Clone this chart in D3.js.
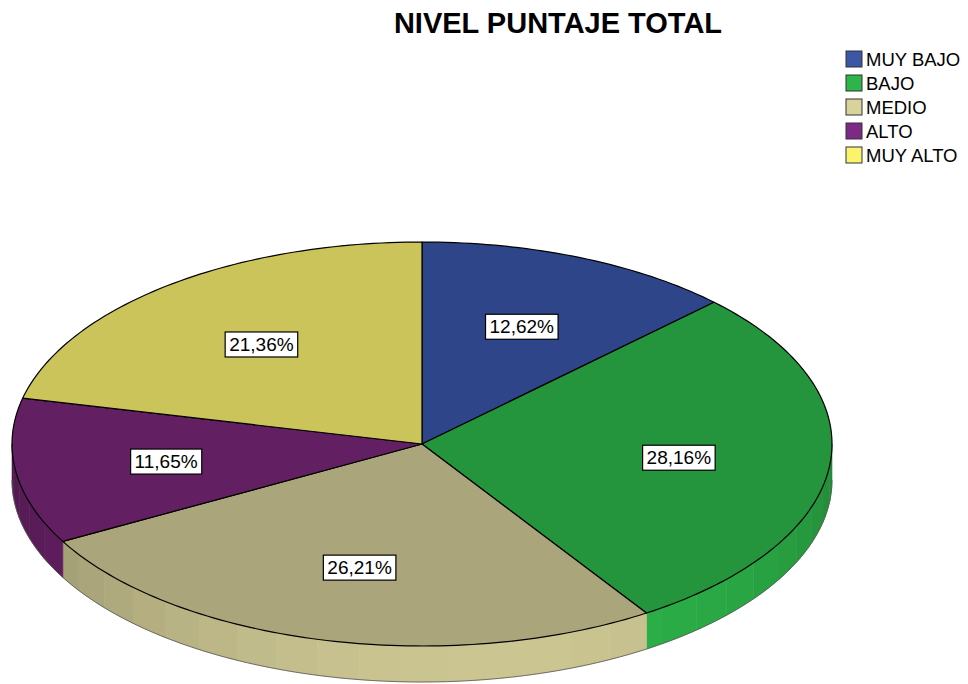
<!DOCTYPE html>
<html>
<head>
<meta charset="utf-8">
<script src="https://cdn.jsdelivr.net/npm/d3@7"></script>
<style>
  body { margin: 0; background: #fff; }
  svg { display: block; font-family: Arial, "Liberation Sans", sans-serif; }
</style>
</head>
<body>
<svg id="chart" width="968" height="684"></svg>
<script>
const categories = ['MUY BAJO', 'BAJO', 'MEDIO', 'ALTO', 'MUY ALTO'];
const percents = [12.62, 28.16, 26.21, 11.65, 21.36];
const labels = ['12,62%', '28,16%', '26,21%', '11,65%', '21,36%'];
const topColors = ['#2f4589', '#25953d', '#aaa57a', '#621f61', '#cac45a'];
const legendColors = ['#3b57a6', '#2db54a', '#d8d29b', '#7d2a86', '#fbf36c'];

const width = 968, height = 684;
const cx = 422, cy = 444, rx = 410, ry = 202, depth = 36;

const svg = d3.select('#chart');

// title
svg.append('text')
    .attr('x', 558)
    .attr('y', 33)
    .attr('text-anchor', 'middle')
    .attr('font-size', 29)
    .attr('font-weight', 'bold')
    .text('NIVEL PUNTAJE TOTAL');

// legend
const legend = svg.append('g').attr('transform', 'translate(846, 51)');
const rows = legend.selectAll('g').data(categories).join('g')
    .attr('transform', (d, i) => `translate(0, ${i * 24})`);
rows.append('rect')
    .attr('width', 16).attr('height', 16)
    .attr('fill', (d, i) => legendColors[i])
    .attr('stroke', '#333').attr('stroke-width', 1);
rows.append('text')
    .attr('x', 20).attr('y', 15)
    .attr('font-size', 18.5)
    .text(d => d);

const pie = d3.pie().sort(null).startAngle(0).endAngle(2 * Math.PI);
const arcs = pie(percents);

// ellipse projection (angle measured clockwise from 12 o'clock)
const px = a => cx + rx * Math.sin(a);
const py = a => cy - ry * Math.cos(a);

function topPath(a0, a1) {
    const steps = Math.max(2, Math.ceil((a1 - a0) / 0.02));
    const p = d3.path();
    p.moveTo(cx, cy);
    for (let k = 0; k <= steps; k++) {
        const a = a0 + (a1 - a0) * k / steps;
        p.lineTo(px(a), py(a));
    }
    p.closePath();
    return p.toString();
}

function sidePath(a0, a1) {
    const steps = Math.max(2, Math.ceil((a1 - a0) / 0.02));
    const pts = [];
    for (let k = 0; k <= steps; k++) {
        const a = a0 + (a1 - a0) * k / steps;
        pts.push([px(a), py(a)]);
    }
    for (let k = steps; k >= 0; k--) {
        const a = a0 + (a1 - a0) * k / steps;
        pts.push([px(a), py(a) + depth]);
    }
    return d3.line()(pts) + 'Z';
}

// side walls (front half only, 90deg..270deg)
const sides = svg.append('g');
const segStep = Math.PI / 30;
arcs.forEach((d, i) => {
    const s = Math.max(d.startAngle, Math.PI / 2);
    const e = Math.min(d.endAngle, 3 * Math.PI / 2);
    if (e <= s) return;
    for (let a = s; a < e - 1e-6; a += segStep) {
        const b = Math.min(a + segStep, e);
        const mid = (a + b) / 2;
        const k = 0.9 * Math.cos(mid - 170 * Math.PI / 180) - 0.4;
        const c = d3.color(topColors[i]).brighter(k).formatHex();
        sides.append('path')
            .attr('d', sidePath(a, b))
            .attr('fill', c)
            .attr('stroke', c)
            .attr('stroke-width', 0.6);
    }
});
// bottom outline of side
sides.append('path')
    .attr('d', d3.line()(d3.range(0, 101).map(k => {
        const a = Math.PI / 2 + Math.PI * k / 100;
        return [px(a), py(a) + depth];
    })))
    .attr('fill', 'none')
    .attr('stroke', '#555')
    .attr('stroke-width', 0.8);

// top face
svg.append('g').selectAll('path').data(arcs).join('path')
    .attr('d', d => topPath(d.startAngle, d.endAngle))
    .attr('fill', (d, i) => topColors[i])
    .attr('stroke', '#000')
    .attr('stroke-width', 1.2)
    .attr('stroke-linejoin', 'round');

// labels
const lf = 0.63;
const lab = svg.append('g').selectAll('g').data(arcs).join('g')
    .attr('transform', d => {
        const m = (d.startAngle + d.endAngle) / 2;
        return `translate(${cx + rx * lf * Math.sin(m)}, ${cy - ry * lf * Math.cos(m)})`;
    });
lab.append('text')
    .attr('text-anchor', 'middle')
    .attr('dy', '0.35em')
    .attr('font-size', 19)
    .text((d, i) => labels[i]);
lab.each(function () {
    const g = d3.select(this);
    const bb = g.select('text').node().getBBox();
    g.insert('rect', 'text')
        .attr('x', bb.x - 4).attr('y', bb.y - 2)
        .attr('width', bb.width + 8).attr('height', bb.height + 4)
        .attr('fill', '#fff')
        .attr('stroke', '#000')
        .attr('stroke-width', 1.2);
});
</script>
</body>
</html>
